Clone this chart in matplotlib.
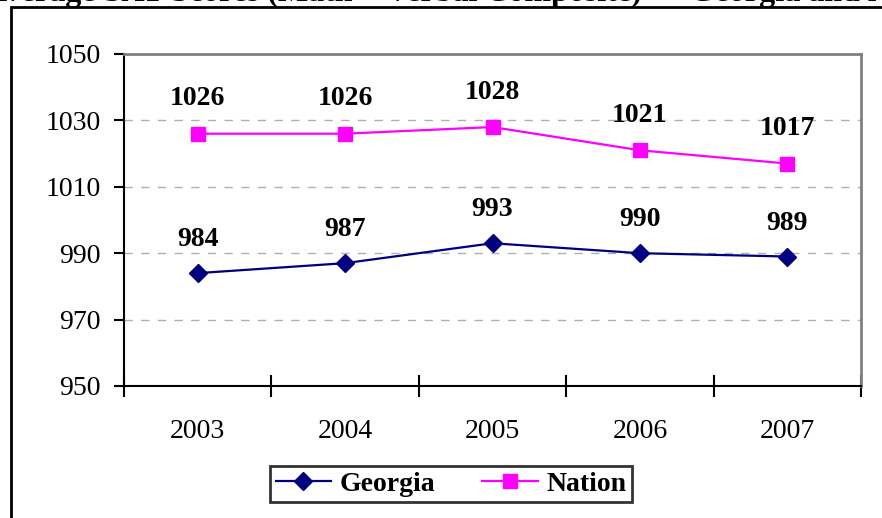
import numpy as np
import matplotlib.pyplot as plt
from matplotlib.patches import Rectangle

years = ['2003', '2004', '2005', '2006', '2007']
georgia = [984, 987, 993, 990, 989]
nation = [1026, 1026, 1028, 1021, 1017]

plt.rcParams['font.family'] = ['Liberation Serif', 'DejaVu Serif']

W, H = 882, 518
fig = plt.figure(figsize=(W / 100, H / 100), dpi=100)

# outer chart frame (only top and left edges show)
fig.patches.append(Rectangle((11 / W, -0.1), 1.2, 1 - 7 / H + 0.1, transform=fig.transFigure,
                             fill=False, edgecolor='black', linewidth=2))
fig.text(0.535, 1 - 1.5 / H, 'Average SAT Scores (Math + Verbal Composite) \u2014 Georgia and Nation',
         ha='center', va='baseline', fontsize=23, fontweight='bold')

ax = fig.add_axes([124 / W, 1 - 386 / H, (861 - 124) / W, (386 - 54) / H])
x = np.arange(len(years))
ax.plot(x, georgia, color='#000080', marker='D', markersize=9, linewidth=1.6, label='Georgia')
ax.plot(x, nation, color='#FF00FF', marker='s', markersize=10, linewidth=1.6, label='Nation')

for xi, v in zip(x, georgia):
    ax.annotate(str(v), (xi, v), xytext=(0, 24), textcoords='offset points',
                ha='center', va='center', fontsize=20, fontweight='bold')
for xi, v in zip(x, nation):
    ax.annotate(str(v), (xi, v), xytext=(0, 25), textcoords='offset points',
                ha='center', va='center', fontsize=20, fontweight='bold')

ax.set_xlim(-0.5, len(years) - 0.5)
ax.set_ylim(950, 1050)
ax.set_yticks(np.arange(950, 1051, 20))
ax.tick_params(axis='y', labelsize=20, direction='out', length=7, width=1.5, pad=10)
ax.set_xticks(x)
ax.set_xticklabels(years)
ax.tick_params(axis='x', which='major', length=0, labelsize=20, pad=24)
ax.set_xticks(np.arange(-0.5, len(years), 1), minor=True)
ax.tick_params(axis='x', which='minor', direction='inout', length=16, width=1.5)

for v in [970, 990, 1010, 1030]:
    ax.axhline(v, color='#b0b0b0', linestyle=(0, (6, 6)), linewidth=1, zorder=0)

ax.spines['left'].set_linewidth(1.5)
ax.spines['bottom'].set_linewidth(1.5)
ax.spines['top'].set_color('#808080')
ax.spines['right'].set_color('#808080')
ax.spines['top'].set_linewidth(2)
ax.spines['right'].set_linewidth(2)

leg = fig.legend(loc='center', bbox_to_anchor=(451 / W, 1 - 484 / H), ncol=2, frameon=True,
                 fancybox=False, edgecolor='black', prop={'size': 20, 'weight': 'bold'},
                 handlelength=2.0, borderpad=0.2, columnspacing=1.7, handletextpad=0.3)
leg.get_frame().set_linewidth(2)

fig.savefig('out.png', dpi=100)
